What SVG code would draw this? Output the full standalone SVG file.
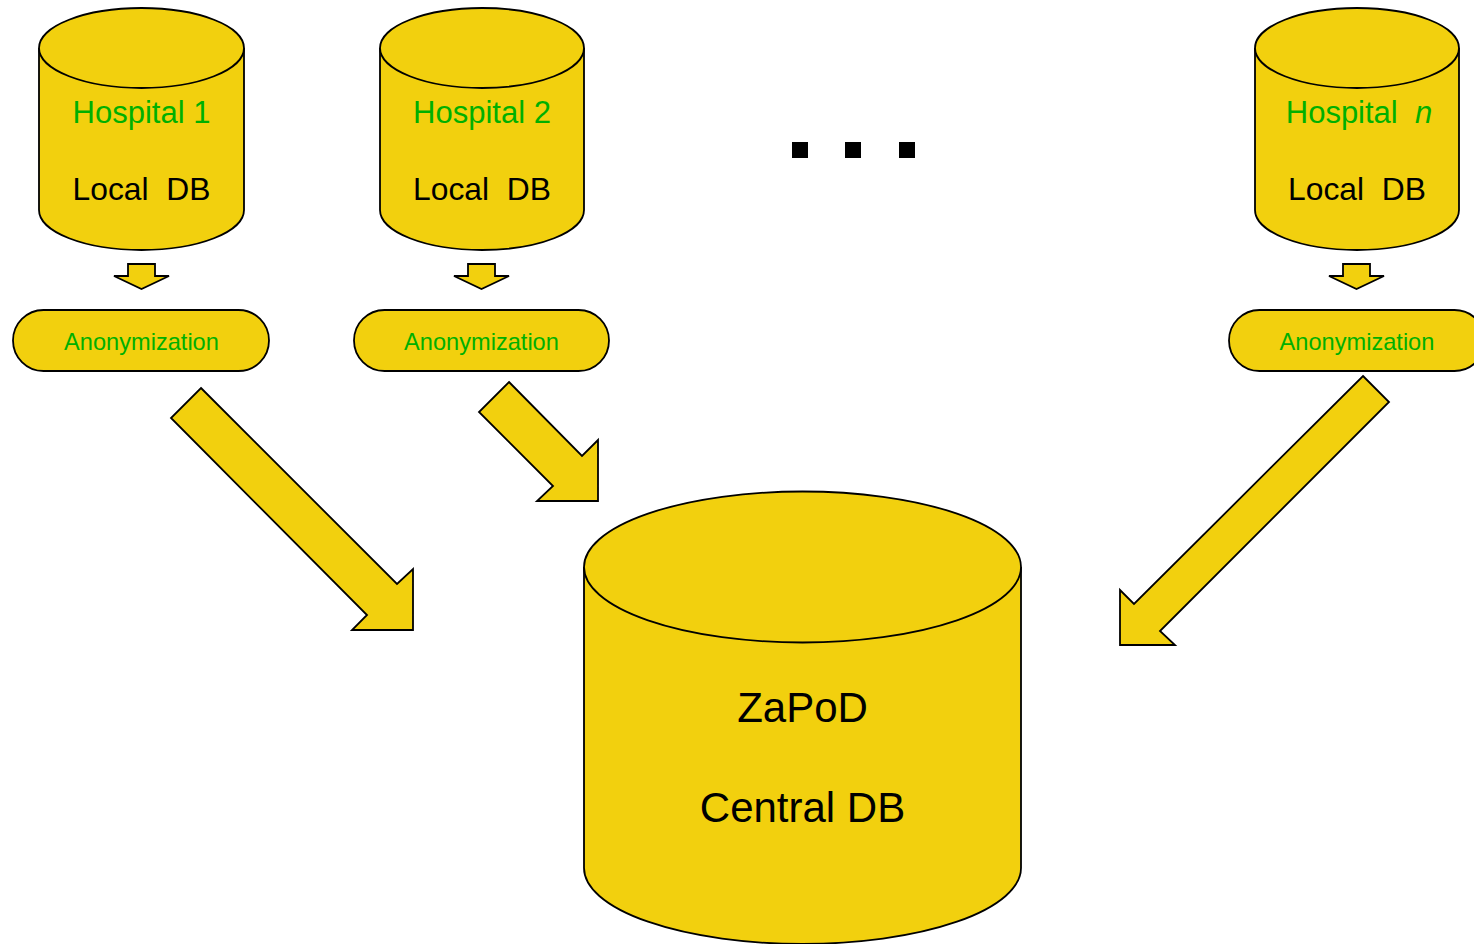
<svg xmlns="http://www.w3.org/2000/svg" width="1474" height="944" viewBox="0 0 1474 944">
<style>
.f{fill:#F2D00E;stroke:#000;stroke-width:1.8;stroke-linejoin:miter}
.t{font-family:"Liberation Sans",Arial,sans-serif;text-anchor:middle;white-space:pre}
.g{fill:#00B000}
.k{fill:#000}
</style>
<rect width="1474" height="944" fill="#fff"/>
<g id="connectors">
<polygon class="f" points="128,264 155,264 155,276 169,276 141.5,289 114,276 128,276"/>
<polygon class="f" points="468,264 495,264 495,276 509,276 481.5,289 454,276 468,276"/>
<polygon class="f" points="1343,264 1370,264 1370,276 1384,276 1356.5,289 1329,276 1343,276"/>
<polygon class="f" points="201,388 397,584 413,569 413,630 352,630 367,615 171,418"/>
<polygon class="f" points="509,382 582,456 598,440 598,501 537,501 553,486 479,412"/>
<polygon class="f" points="1363,376 1389,402 1160,631 1175,645 1120,645 1120,590 1134,604"/>
</g>
<g id="hospital1">
<path class="f" d="M39,48 L39,210 A102.5,40 0 0 0 244,210 L244,48"/>
<ellipse class="f" cx="141.5" cy="48" rx="102.5" ry="40"/>
<text class="t g" x="141.5" y="123" font-size="31">Hospital 1</text>
<text class="t k" x="141.5" y="200" font-size="31.8">Local  DB</text>
</g>
<g id="hospital2">
<path class="f" d="M380,48 L380,210 A102,40 0 0 0 584,210 L584,48"/>
<ellipse class="f" cx="482" cy="48" rx="102" ry="40"/>
<text class="t g" x="482" y="123" font-size="31">Hospital 2</text>
<text class="t k" x="482" y="200" font-size="31.8">Local  DB</text>
</g>
<g id="hospitaln">
<path class="f" d="M1255,48 L1255,210 A102,40 0 0 0 1459,210 L1459,48"/>
<ellipse class="f" cx="1357" cy="48" rx="102" ry="40"/>
<text class="t g" x="1359" y="123" font-size="31">Hospital  <tspan font-style="italic">n</tspan></text>
<text class="t k" x="1357" y="200" font-size="31.8">Local  DB</text>
</g>
<g id="anon1">
<rect class="f" x="13" y="310" width="256" height="61" rx="30.5"/>
<text class="t g" x="141.5" y="350" font-size="23.6">Anonymization</text>
</g>
<g id="anon2">
<rect class="f" x="354" y="310" width="255" height="61" rx="30.5"/>
<text class="t g" x="481.5" y="350" font-size="23.6">Anonymization</text>
</g>
<g id="anonn">
<rect class="f" x="1229" y="310" width="256" height="61" rx="30.5"/>
<text class="t g" x="1357" y="350" font-size="23.6">Anonymization</text>
</g>
<g id="dots">
<rect x="792" y="142" width="16" height="16" fill="#000"/>
<rect x="845" y="142" width="16" height="16" fill="#000"/>
<rect x="899" y="142" width="16" height="16" fill="#000"/>
</g>
<g id="central">
<path class="f" d="M584,567 L584,868 A218.5,76 0 0 0 1021,868 L1021,567"/>
<ellipse class="f" cx="802.5" cy="567" rx="218.5" ry="75.5"/>
<text class="t k" x="802.5" y="722" font-size="42">ZaPoD</text>
<text class="t k" x="802.5" y="822" font-size="42">Central DB</text>
</g>
</svg>
